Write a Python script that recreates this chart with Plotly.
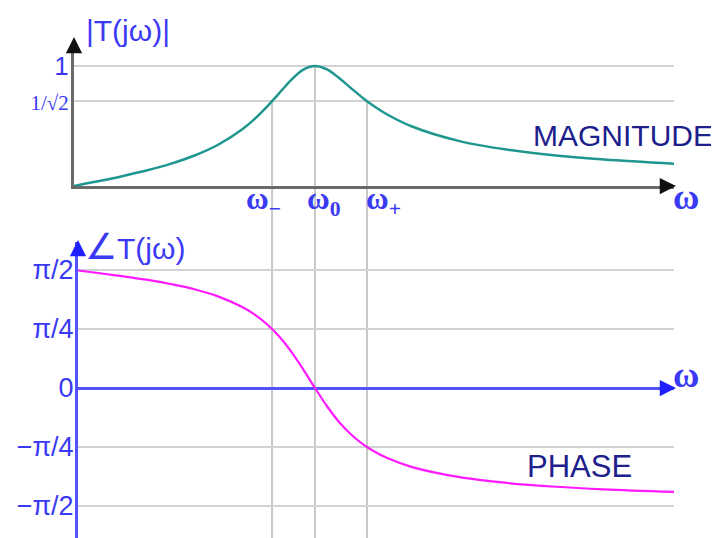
import plotly.graph_objects as go

# ---------------- data ----------------
omega = [0, 0.05, 0.1, 0.2, 0.3, 0.4, 0.5, 0.6, 0.7, 0.75, 0.8, 0.85, 0.9, 0.95,
         1.0, 1.05, 1.1, 1.15, 1.2, 1.25, 1.3, 1.4, 1.6, 1.8, 2.0, 2.2, 2.49]
magnitude = [0, 0.020, 0.040, 0.082, 0.129, 0.184, 0.254, 0.346, 0.475, 0.559,
             0.659, 0.770, 0.881, 0.968, 1.0, 0.971, 0.900, 0.815, 0.732, 0.659,
             0.596, 0.498, 0.374, 0.302, 0.254, 0.220, 0.185]

omega_phase = [0.0166, 0.05, 0.1, 0.2, 0.3, 0.4, 0.5, 0.6, 0.7, 0.75, 0.8, 0.85,
               0.9, 0.95, 1.0, 1.05, 1.1, 1.15, 1.2, 1.25, 1.3, 1.4, 1.6, 1.8,
               2.0, 2.2, 2.49]
phase = [1.565, 1.551, 1.531, 1.489, 1.442, 1.385, 1.315, 1.217, 1.075, 0.977,
         0.852, 0.692, 0.492, 0.255, 0.0, -0.243, -0.452, -0.619, -0.750,
         -0.852, -0.933, -1.050, -1.187, -1.265, -1.315, -1.349, -1.384]

# characteristic frequencies: omega_-, omega_0, omega_+
marker_omegas = [0.822, 1.0, 1.216]
marker_levels = [0.7071, 1.0, 0.7071]
marker_labels = ["ω<sub>−</sub>", "ω<sub>0</sub>", "ω<sub>+</sub>"]

mag_tickvals = [1.0, 0.7071]
mag_ticktext = ["1", '<span style="font-size:21px;font-family:\'Liberation Serif\'">1/√2</span>']

PI = 3.141592653589793
phase_tickvals = [PI / 2, PI / 4, 0, -PI / 4, -PI / 2]
phase_ticktext = ["π/2", "π/4", "0", "−π/4", "−π/2"]

# ---------------- styling ----------------
OFF = 8            # page body margin in the browser
W, H = 711, 530
BLUE = "#3a3af5"
AXBLUE = "#5252ff"
NAVY = "#20208c"
GRID = "#d2d2d2"
TEAL = "#1f968f"
MAGENTA = "#ff1aff"


def px(x):
    return (x - OFF) / W


def py(y):
    return 1 - (y - OFF) / H


fig = go.Figure()
fig.add_trace(go.Scatter(x=omega, y=magnitude, mode="lines", line=dict(color=TEAL, width=2.5, shape="spline"),
                         xaxis="x", yaxis="y", hoverinfo="skip"))
fig.add_trace(go.Scatter(x=omega_phase, y=phase, mode="lines", line=dict(color=MAGENTA, width=2.2, shape="spline"),
                         xaxis="x2", yaxis="y2", hoverinfo="skip"))

shapes = []
for w, lev in zip(marker_omegas, marker_levels):
    top_px = 186 - lev * 120
    shapes.append(dict(type="line", xref="x", yref="paper", x0=w, x1=w, y0=0, y1=py(top_px),
                       line=dict(color="#c8c8c8", width=2), layer="below"))

annotations = []
# axis arrowheads
annotations.append(dict(xref="paper", yref="paper", x=px(74), y=py(37), ax=0, ay=14, text="",
                        showarrow=True, arrowhead=2, arrowsize=1.3, arrowwidth=2.5, arrowcolor="#111111",
                        standoff=0))
annotations.append(dict(xref="paper", yref="paper", x=px(676), y=py(186), ax=-14, ay=0, text="",
                        showarrow=True, arrowhead=2, arrowsize=1.3, arrowwidth=2.5, arrowcolor="#111111",
                        standoff=0))
annotations.append(dict(xref="paper", yref="paper", x=px(78), y=py(240), ax=0, ay=12, text="",
                        showarrow=True, arrowhead=2, arrowsize=1.3, arrowwidth=2.5, arrowcolor="#2020ff",
                        standoff=0))
annotations.append(dict(xref="paper", yref="paper", x=px(676), y=py(388), ax=-12, ay=0, text="",
                        showarrow=True, arrowhead=2, arrowsize=1.3, arrowwidth=2.5, arrowcolor="#2020ff",
                        standoff=0))


def label(x, y, text, size, family="Liberation Sans", color=BLUE, xanchor="center"):
    annotations.append(dict(xref="paper", yref="paper", x=px(x), y=py(y), xanchor=xanchor, yanchor="middle",
                            text=text, showarrow=False, font=dict(family=family, size=size, color=color)))


# axis titles
label(84, 31, "|T(jω)|", 30, xanchor="left")
label(83, 246, '<span style="font-size:36px">∠</span>T(jω)', 30, xanchor="left")
label(686, 197, "<b>ω</b>", 36, family="Liberation Serif")
label(686, 375, "<b>ω</b>", 36, family="Liberation Serif")

# omega markers
label_left = [244, 305, 364]
for lx, lab in zip(label_left, marker_labels):
    label(lx, 201, "<b>" + lab + "</b>", 31, family="Liberation Serif", xanchor="left")

label(531, 135, "MAGNITUDE", 30, color=NAVY, xanchor="left")
label(525, 466, "PHASE", 31, color=NAVY, xanchor="left")

fig.update_layout(
    width=W, height=H, margin=dict(l=0, r=0, t=0, b=0),
    paper_bgcolor="white", plot_bgcolor="white", showlegend=False,
    xaxis=dict(domain=[px(74), px(674)], range=[0, 2.49], anchor="y", showgrid=False, zeroline=False,
               showticklabels=False, showline=True, linecolor="#6a6a6a", linewidth=3, ticks=""),
    yaxis=dict(domain=[py(186), py(48)], range=[0, 1.15], anchor="x", tickvals=mag_tickvals,
               ticktext=mag_ticktext, showgrid=True, gridcolor=GRID, gridwidth=2, zeroline=False,
               showline=True, linecolor="#6a6a6a", linewidth=3, ticks="", ticklabelstandoff=-3,
               tickfont=dict(family="Liberation Sans", size=26, color=BLUE)),
    xaxis2=dict(domain=[px(78), px(674)], range=[0.0166, 2.49], anchor="y2", showgrid=False, zeroline=False,
                showticklabels=False, showline=False, ticks=""),
    yaxis2=dict(domain=[0, py(242)], range=[(388 - 538) / 75.1, (388 - 242) / 75.1], anchor="x2",
                tickvals=phase_tickvals, ticktext=phase_ticktext, showgrid=True, gridcolor=GRID, gridwidth=2,
                zeroline=True, zerolinecolor=AXBLUE, zerolinewidth=3,
                showline=True, linecolor=AXBLUE, linewidth=3, ticks="", ticklabelstandoff=-4,
                tickfont=dict(family="Liberation Sans", size=27, color=BLUE)),
    shapes=shapes, annotations=annotations,
)

fig.write_html("out.html")
